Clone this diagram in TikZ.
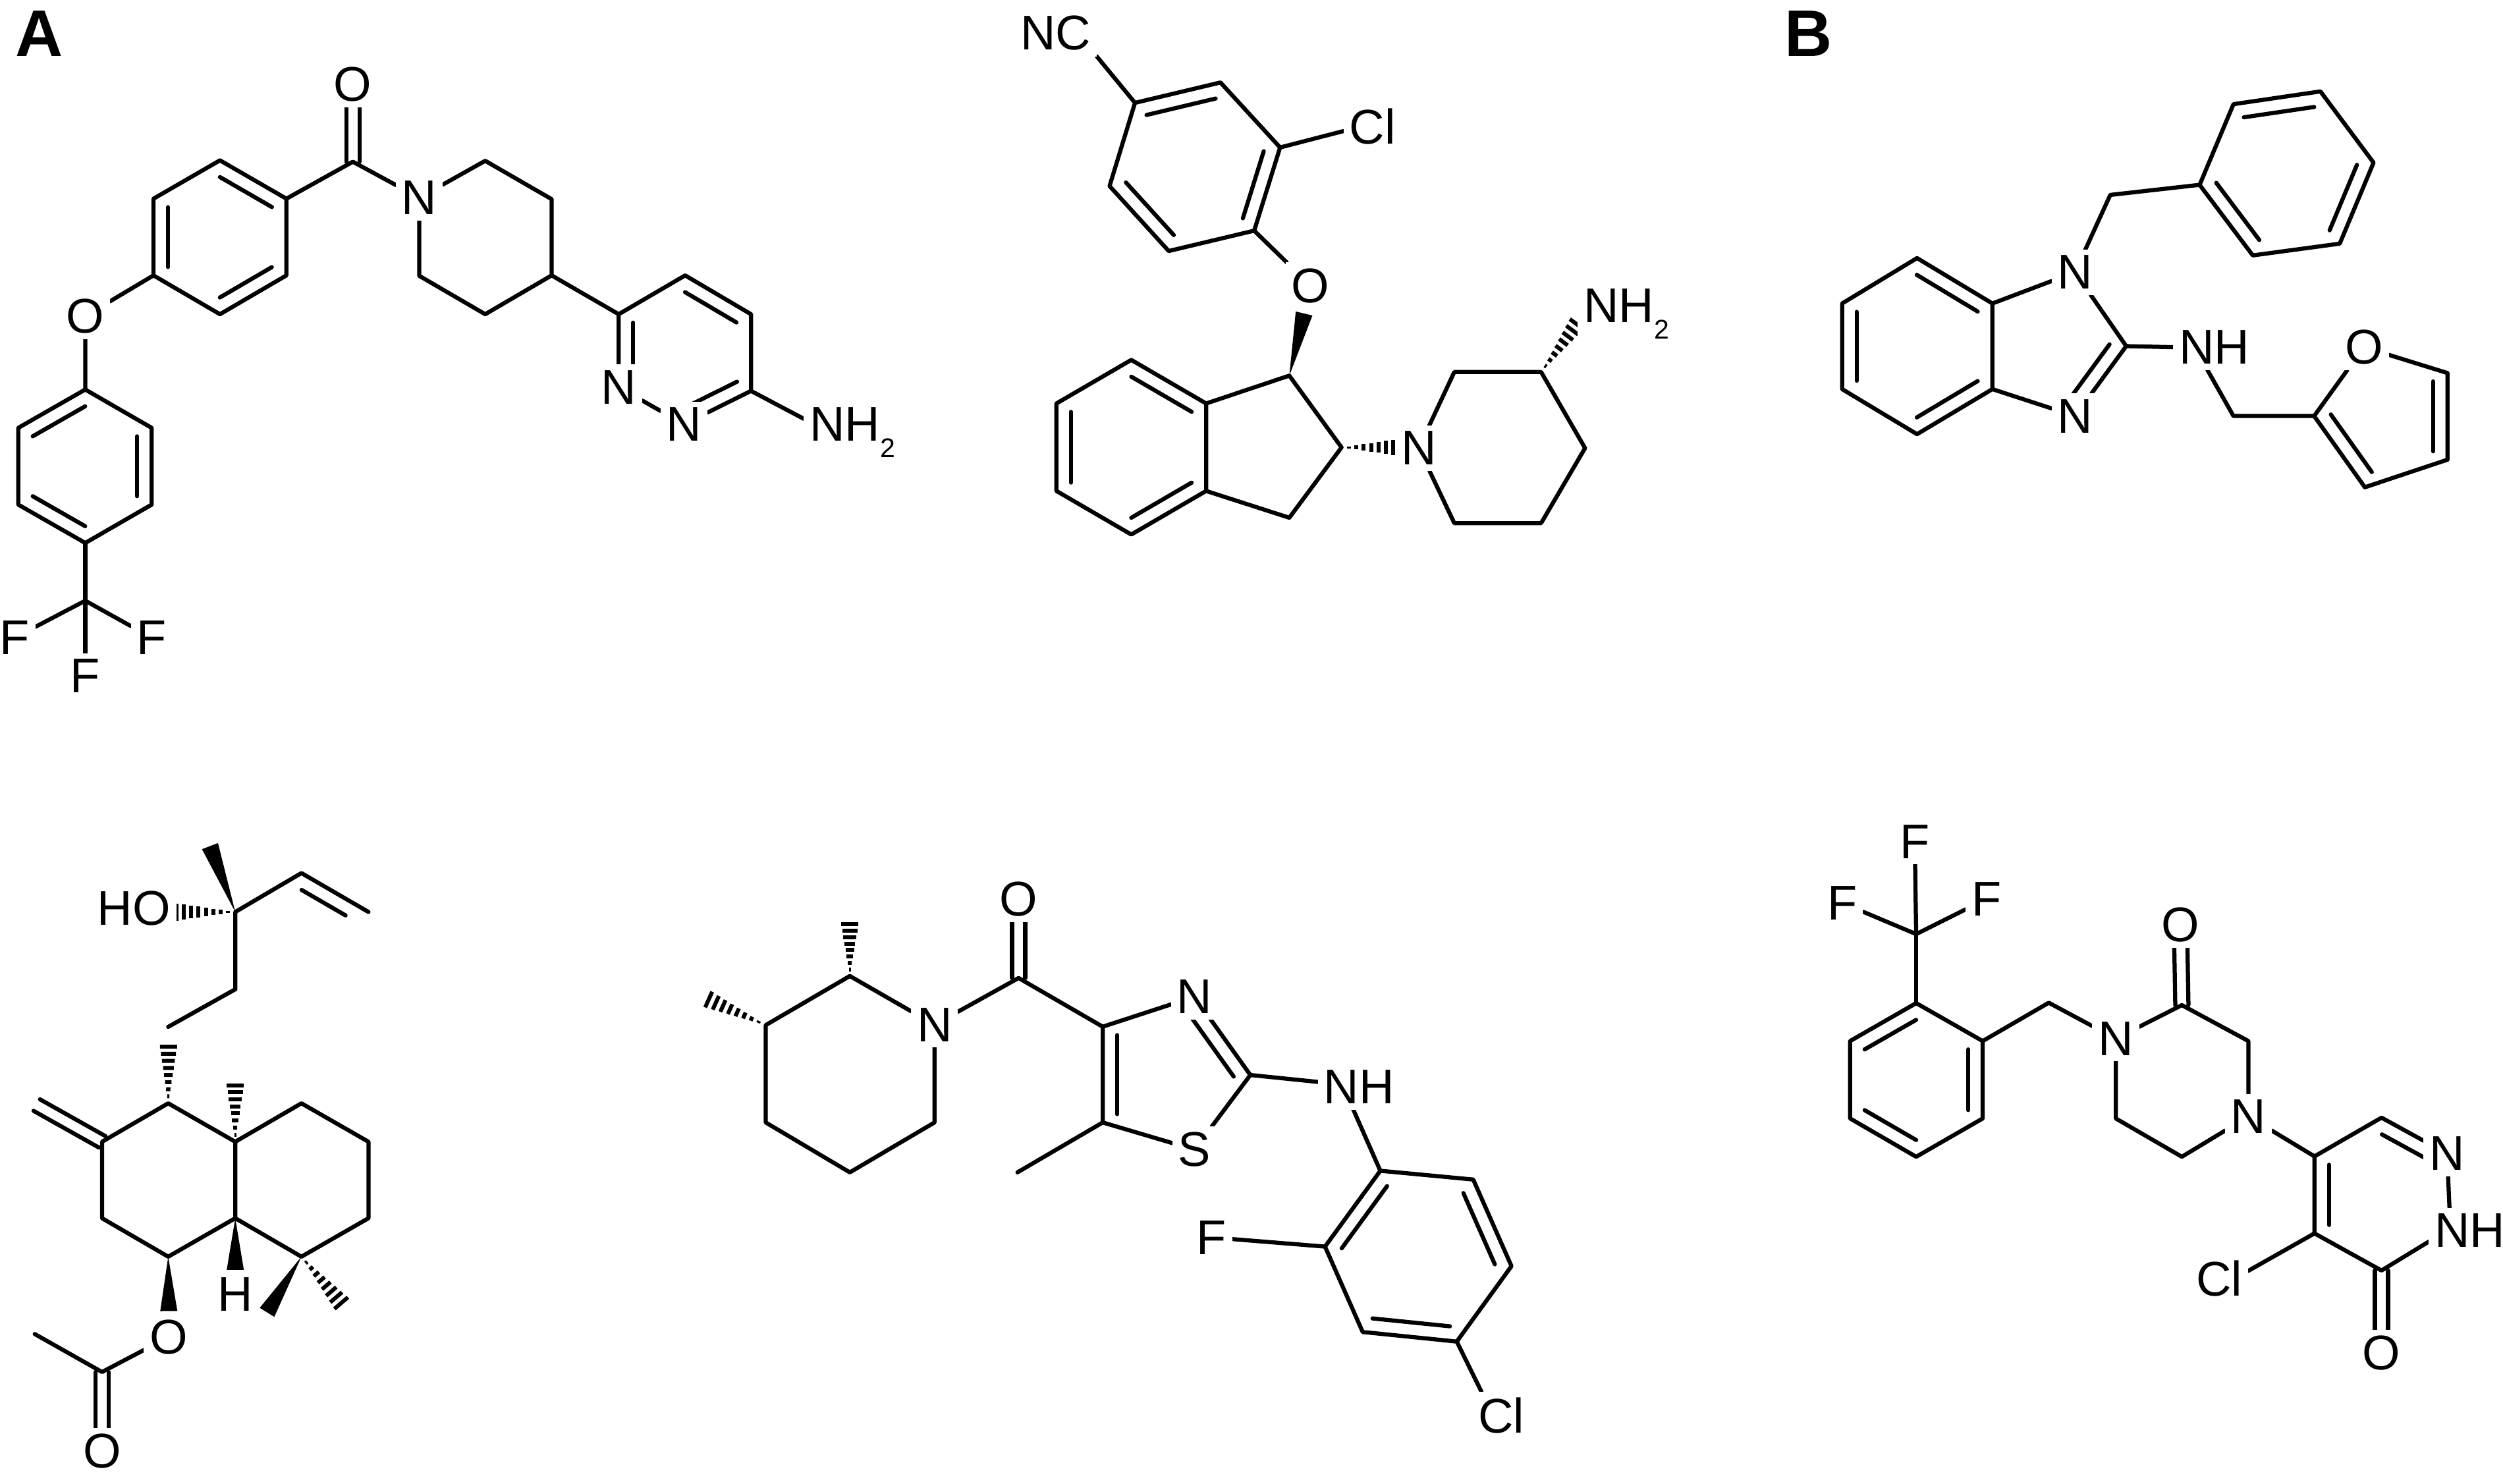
\documentclass[tikz,border=0pt]{standalone}
\usepackage{fontspec}
\setmainfont{Liberation Sans}
\usetikzlibrary{calc,backgrounds}
\tikzset{
  bond/.style={line width=1.25pt,line cap=round,line join=round,black},
  atom/.style={fill=white,inner sep=1.8pt,outer sep=0pt,font=\fontsize{14.8pt}{14.8pt}\selectfont},
  atomw/.style={atom,anchor=base west,xshift=-2.9pt},
  panel/.style={inner sep=0pt,anchor=base west,font=\fontsize{20pt}{20pt}\selectfont\bfseries},
  tick/.style={line width=1.2pt,line cap=butt,black}
}
\newcommand{\subtwo}{\raisebox{-5pt}{\fontsize{8.2pt}{8.2pt}\selectfont 2}}
\newcommand{\dblinx}[4]{\draw[bond] ($(#1)!#3!(#2)!4.4pt!90:(#2)$) -- ($(#2)!#4!(#1)!4.4pt!-90:(#1)$);}
\newcommand{\dblin}[2]{\dblinx{#1}{#2}{2.55pt}{2.55pt}}
\newcommand{\dblsym}[2]{\draw[bond] ($(#1)!2pt!90:(#2)$) -- ($(#2)!2pt!-90:(#1)$);\draw[bond] ($(#1)!2pt!-90:(#2)$) -- ($(#2)!2pt!90:(#1)$);}
\newcommand{\wdg}[3]{\fill[black] (#1) -- ($(#2)!#3!90:(#1)$) -- ($(#2)!#3!-90:(#1)$) -- cycle;}
\newcommand{\hsh}[4]{\foreach \hI in {1,...,#4}{\pgfmathsetmacro\hT{\hI/#4}\pgfmathsetlengthmacro\hW{\hT*#3}\draw[tick] ($(#1)!\hT!(#2)!\hW!90:(#1)$) -- ($(#1)!\hT!(#2)!\hW!-90:(#1)$);}}
\begin{document}
\begin{tikzpicture}
\useasboundingbox (0,0) rectangle (760pt,-450.4pt);
% ---------- molecule 1
\begin{scope}[x=0.17857pt,y=-0.14031pt]
\node[panel] (A) at (25,122) {A};
\coordinate (a1) at (600,350);
\coordinate (p1) at (825,348);\coordinate (p2) at (938,431);\coordinate (p3) at (938,596);\coordinate (p4) at (825,680);\coordinate (p5) at (713,597);
\coordinate (b1) at (487,430);\coordinate (b2) at (374,347);\coordinate (b3) at (261,430);\coordinate (b4) at (261,596);\coordinate (b5) at (374,680);\coordinate (b6) at (487,596);
\coordinate (d1) at (145,843);\coordinate (d2) at (31,926);\coordinate (d3) at (31,1092);\coordinate (d4) at (145,1175);\coordinate (d5) at (258,1092);\coordinate (d6) at (258,926);
\coordinate (cf) at (145,1300);
\coordinate (c1) at (1052,680);\coordinate (c2) at (1165,596);\coordinate (c3) at (1277,680);\coordinate (c4) at (1277,846);
\node[atom] (O1) at (600,182) {O};
\node[atom] (N1) at (713,428) {N};
\node[atom] (O2) at (145,684) {O};
\node[atom] (F1) at (25,1380) {F};
\node[atom] (F2) at (258,1380) {F};
\node[atom] (F3) at (145,1463) {F};
\node[atom] (N2) at (1052,838) {N};
\node[atom] (N3) at (1163,918) {N};
\node[atomw] (NHa) at (1383,955) {NH\subtwo};
\begin{pgfonlayer}{background}
\dblsym{a1}{O1}
\draw[bond] (b1) -- (a1) -- (N1) -- (p1) -- (p2) -- (p3) -- (p4) -- (p5) -- (N1);
\draw[bond] (b1) -- (b2) -- (b3) -- (b4) -- (b5) -- (b6) -- cycle;
\dblin{b1}{b2}\dblin{b3}{b4}\dblin{b5}{b6}
\draw[bond] (b4) -- (O2) -- (d1);
\draw[bond] (d1) -- (d2) -- (d3) -- (d4) -- (d5) -- (d6) -- cycle;
\dblin{d1}{d2}\dblin{d3}{d4}\dblin{d5}{d6}
\draw[bond] (d4) -- (cf);
\draw[bond] (cf) -- (F1);\draw[bond] (cf) -- (F2);\draw[bond] (cf) -- (F3);
\draw[bond] (p3) -- (c1) -- (c2) -- (c3) -- (c4) -- (N3) -- (N2) -- (c1);
\dblin{c3}{c2}\dblin{N3}{c4}\dblin{c1}{N2}
\draw[bond] (c4) -- (NHa.164);
\end{pgfonlayer}
\end{scope}
% ---------- molecule 2
\begin{scope}[shift={(300pt,0pt)},x=0.14031pt,y=-0.10842pt]
\coordinate (e1) at (318,288);\coordinate (e2) at (503,231);\coordinate (e3) at (632,413);\coordinate (e4) at (576,646);\coordinate (e5) at (391,703);\coordinate (e6) at (263,521);
\coordinate (f1) at (652,1052);\coordinate (f2) at (765,1253);\coordinate (f3) at (652,1450);
\coordinate (g1) at (472,1130);\coordinate (g2) at (310,1008);\coordinate (g3) at (148,1130);\coordinate (g4) at (148,1375);\coordinate (g5) at (310,1497);\coordinate (g6) at (472,1375);
\coordinate (q1) at (1009,1042);\coordinate (q2) at (1197,1042);\coordinate (q3) at (1292,1255);\coordinate (q4) at (1197,1465);\coordinate (q5) at (1009,1465);
\coordinate (wO) at (684,878);\coordinate (hN) at (893,1253);\coordinate (hNH) at (1274,908);
\node[atomw] (NC) at (78,140) {NC};
\node[atomw] (Cla) at (790,403) {Cl};
\node[atom] (O3) at (698,800) {O};
\node[atom] (N4) at (932,1255) {N};
\node[atomw] (NHb) at (1297,903) {NH\subtwo};
\begin{pgfonlayer}{background}
\draw[bond] (NC.south east) -- (e1) -- (e2) -- (e3) -- (e4) -- (e5) -- (e6) -- (e1);
\dblin{e2}{e1}\dblin{e4}{e3}\dblin{e6}{e5}
\draw[bond] (e3) -- (Cla.189);
\draw[bond] (e4) -- (O3);
\wdg{f1}{wO}{2.6pt}
\draw[bond] (g1) -- (g2) -- (g3) -- (g4) -- (g5) -- (g6) -- cycle;
\dblin{g1}{g2}\dblin{g3}{g4}\dblin{g5}{g6}
\draw[bond] (g1) -- (f1) -- (f2) -- (f3) -- (g6);
\hsh{f2}{hN}{2.6pt}{8}
\draw[bond] (N4) -- (q1) -- (q2) -- (q3) -- (q4) -- (q5) -- (N4);
\hsh{q2}{hNH}{2.6pt}{8}
\end{pgfonlayer}
\end{scope}
% ---------- molecule 3
\begin{scope}[shift={(530pt,0pt)},x=0.14668pt,y=-0.10204pt]
\node[panel] (B) at (80,168) {B};
\coordinate (h1) at (511,903);\coordinate (h2) at (355,768);\coordinate (h3) at (200,903);\coordinate (h4) at (200,1158);\coordinate (h5) at (355,1292);\coordinate (h6) at (511,1158);\coordinate (h7) at (788,1030);
\coordinate (i1) at (1010,1238);\coordinate (i2) at (1177,1238);\coordinate (i3) at (1453,1110);\coordinate (i4) at (1453,1368);\coordinate (i5) at (1282,1450);
\coordinate (j1) at (755,580);\coordinate (j2) at (940,550);\coordinate (j3) at (1010,310);\coordinate (j4) at (1190,272);\coordinate (j5) at (1300,484);\coordinate (j6) at (1230,725);\coordinate (j7) at (1050,760);
\node[atom] (N5) at (682,810) {N};
\node[atom] (N6) at (682,1238) {N};
\node[atom] (O4) at (1280,1033) {O};
\node[atomw] (NHc) at (905,1083) {NH};
\begin{pgfonlayer}{background}
\draw[bond] (h1) -- (h2) -- (h3) -- (h4) -- (h5) -- (h6) -- cycle;
\dblin{h1}{h2}\dblin{h3}{h4}\dblin{h5}{h6}
\draw[bond] (h1) -- (N5) -- (h7) -- (N6) -- (h6);
\dblin{N6}{h7}
\draw[bond] (h7) -- (NHc.west);
\draw[bond] (NHc.253) -- (i1) -- (i2) -- (O4) -- (i3) -- (i4) -- (i5) -- (i2);
\dblin{i4}{i3}\dblin{i2}{i5}
\draw[bond] (N5) -- (j1) -- (j2);
\draw[bond] (j2) -- (j3) -- (j4) -- (j5) -- (j6) -- (j7) -- cycle;
\dblin{j4}{j3}\dblin{j6}{j5}\dblin{j2}{j7}
\end{pgfonlayer}
\end{scope}
% ---------- molecule 4
\begin{scope}[shift={(0pt,-240pt)},x=0.08929pt,y=-0.13418pt]
\coordinate (k1) at (800,275);\coordinate (k2) at (1025,187);\coordinate (k3) at (1253,275);\coordinate (k4) at (800,450);\coordinate (k5) at (572,535);
\coordinate (r1) at (572,708);\coordinate (r2) at (347,795);\coordinate (r3) at (347,968);\coordinate (r4) at (572,1055);\coordinate (r5) at (800,968);\coordinate (r6) at (800,795);
\coordinate (s1) at (1025,708);\coordinate (s2) at (1253,795);\coordinate (s3) at (1253,968);\coordinate (s4) at (1025,1055);
\coordinate (t1) at (125,712);\coordinate (u1) at (347,1316);\coordinate (u2) at (118,1230);
\coordinate (wk) at (714,126);\coordinate (hk) at (600,275);\coordinate (hr1) at (573,580);\coordinate (hr6) at (800,667);
\coordinate (wH) at (800,1085);\coordinate (wO5) at (574,1178);\coordinate (ws) at (908,1181);\coordinate (hs) at (1160,1160);
\node[atomw] (HO) at (343,305) {HO};
\node[atom] (Ha) at (800,1140) {H};
\node[atom] (O5) at (573,1237) {O};
\node[atom] (O6) at (347,1495) {O};
\begin{pgfonlayer}{background}
\wdg{k1}{wk}{2.6pt}
\hsh{k1}{hk}{2.6pt}{8}
\draw[bond] (k4) -- (k1) -- (k2) -- (k3);
\dblinx{k3}{k2}{5.5pt}{2.6pt}
\draw[bond] (k4) -- (k5);
\hsh{r1}{hr1}{2.6pt}{8}
\hsh{r6}{hr6}{2.6pt}{8}
\draw[bond] (r1) -- (r2) -- (r3) -- (r4) -- (r5) -- (r6) -- cycle;
\draw[bond] (r6) -- (s1) -- (s2) -- (s3) -- (s4) -- (r5);
\dblsym{r2}{t1}
\wdg{r5}{wH}{2.6pt}
\wdg{r4}{wO5}{2.6pt}
\wdg{s4}{ws}{2.6pt}
\hsh{s4}{hs}{2.7pt}{8}
\draw[bond] (O5) -- (u1) -- (u2);
\dblsym{u1}{O6}
\end{pgfonlayer}
\end{scope}
% ---------- molecule 5
\begin{scope}[shift={(200pt,-260pt)},x=0.17857pt,y=-0.12117pt]
\coordinate (v1) at (612,305);
\coordinate (w1) at (325,300);\coordinate (w2) at (182,423);\coordinate (w3) at (182,667);\coordinate (w4) at (325,792);\coordinate (w5) at (469,667);
\coordinate (hw1) at (325,170);\coordinate (hw2) at (85,359);
\coordinate (x1) at (755,427);\coordinate (x2) at (1006,548);\coordinate (x3) at (755,667);\coordinate (y0) at (610,792);
\coordinate (z1) at (1227,788);\coordinate (z2) at (1385,810);\coordinate (z3) at (1450,1027);\coordinate (z4) at (1357,1216);\coordinate (z5) at (1197,1192);\coordinate (z6) at (1133,978);
\node[atom] (O7) at (612,107) {O};
\node[atom] (N7) at (469,422) {N};
\node[atom] (N8) at (911,352) {N};
\node[atom] (S1) at (911,735) {S};
\node[atomw] (NHd) at (1137,620) {NH};
\node[atom] (F4) at (940,955) {F};
\node[atomw] (Clb) at (1400,1445) {Cl};
\begin{pgfonlayer}{background}
\dblsym{v1}{O7}
\draw[bond] (x1) -- (v1) -- (N7) -- (w1) -- (w2) -- (w3) -- (w4) -- (w5) -- (N7);
\hsh{w1}{hw1}{2.6pt}{8}
\hsh{w2}{hw2}{2.6pt}{8}
\draw[bond] (x1) -- (N8) -- (x2) -- (S1) -- (x3) -- (x1);
\dblin{x2}{N8}\dblin{x1}{x3}
\draw[bond] (x3) -- (y0);
\draw[bond] (x2) -- (NHd.173);
\draw[bond] (NHd.256) -- (z1);
\draw[bond] (z1) -- (z2) -- (z3) -- (z4) -- (z5) -- (z6) -- cycle;
\dblin{z3}{z2}\dblin{z5}{z4}\dblin{z1}{z6}
\draw[bond] (z6) -- (F4);
\draw[bond] (z4) -- (Clb.130);
\end{pgfonlayer}
\end{scope}
% ---------- molecule 6
\begin{scope}[shift={(540pt,-240pt)},x=0.14031pt,y=-0.12117pt]
\coordinate (cg) at (298,360);
\coordinate (aa1) at (298,533);\coordinate (aa2) at (155,628);\coordinate (aa3) at (155,822);\coordinate (aa4) at (298,918);\coordinate (aa5) at (442,822);\coordinate (aa6) at (442,628);
\coordinate (ab1) at (585,532);\coordinate (ab2) at (873,538);\coordinate (ab3) at (1017,628);\coordinate (ab4) at (873,918);\coordinate (ab5) at (730,822);
\coordinate (ac1) at (1160,917);\coordinate (ac2) at (1305,820);\coordinate (ac3) at (1305,1203);\coordinate (ac4) at (1160,1110);
\node[atom] (F5) at (295,128) {F};
\node[atom] (F6) at (138,282) {F};
\node[atom] (F7) at (450,272) {F};
\node[atom] (N9) at (730,622) {N};
\node[atom] (O8) at (870,337) {O};
\node[atom] (N10) at (1017,817) {N};
\node[atom] (N11) at (1447,910) {N};
\node[atomw] (NHe) at (1428,1145) {NH};
\node[atomw] (Clc) at (912,1267) {Cl};
\node[atom] (O9) at (1305,1410) {O};
\begin{pgfonlayer}{background}
\draw[bond] (cg) -- (F5);\draw[bond] (cg) -- (F6);\draw[bond] (cg) -- (F7);
\draw[bond] (cg) -- (aa1);
\draw[bond] (aa1) -- (aa2) -- (aa3) -- (aa4) -- (aa5) -- (aa6) -- cycle;
\dblin{aa1}{aa2}\dblin{aa3}{aa4}\dblin{aa5}{aa6}
\draw[bond] (aa6) -- (ab1) -- (N9) -- (ab2) -- (ab3) -- (N10) -- (ab4) -- (ab5) -- (N9);
\dblsym{ab2}{O8}
\draw[bond] (N10) -- (ac1) -- (ac2) -- (N11);
\dblin{N11}{ac2}
\draw[bond] (N11) -- (NHe.132);
\draw[bond] (NHe.195) -- (ac3) -- (ac4) -- (ac1);
\dblin{ac1}{ac4}
\draw[bond] (ac4) -- (Clc.15);
\dblsym{ac3}{O9}
\end{pgfonlayer}
\end{scope}
\end{tikzpicture}
\end{document}
